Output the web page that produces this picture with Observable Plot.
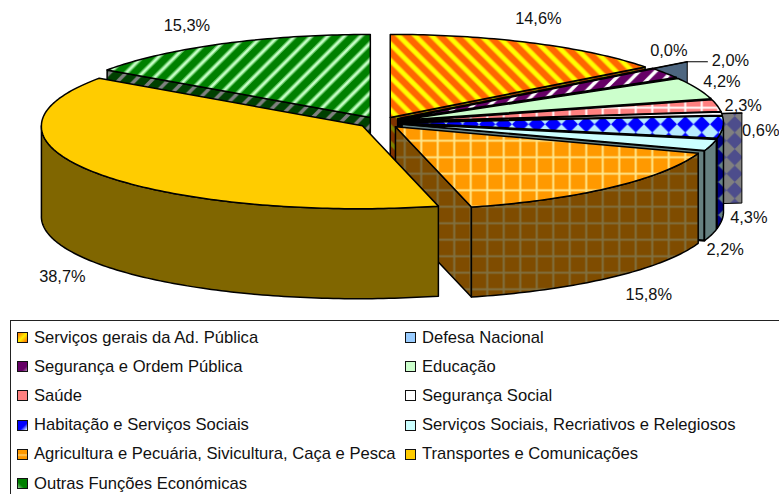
<!DOCTYPE html>
<html lang="pt">
<head>
<meta charset="utf-8">
<script src="https://cdn.jsdelivr.net/npm/d3@7"></script>
<script src="https://cdn.jsdelivr.net/npm/@observablehq/plot@0.6"></script>
<style>
html,body{margin:0;padding:0;background:#fff;overflow:hidden;width:779px;height:495px}
#chart svg{display:block}
#legend{box-sizing:border-box;position:relative;margin-left:10px;width:780px;height:174px;border-left:1px solid #222;border-top:1px solid #222;
 display:grid;grid-template-columns:388px 1fr;grid-auto-rows:29.2px;padding-top:2px;font:16.6px "Liberation Sans",Arial,sans-serif;color:#111}
.item{display:flex;align-items:center;white-space:nowrap;padding-left:6px}
.sw{box-sizing:border-box;width:11px;height:11px;border:1.5px solid #111;margin-right:6px;flex:none}
</style>
</head>
<body>
<div id="chart"></div>
<div id="legend"></div>
<script>
const categories = ["Serviços gerais da Ad. Pública","Defesa Nacional","Segurança e Ordem Pública","Educação","Saúde","Segurança Social","Habitação e Serviços Sociais","Serviços Sociais, Recriativos e Relegiosos","Agricultura e Pecuária, Sivicultura, Caça e Pesca","Transportes e Comunicações","Outras Funções Económicas"];
const values = [14.6,0.0,2.0,4.2,2.3,0.6,4.3,2.2,15.8,38.7,15.3];

// drawing layout
const W = 779, H = 320, cx = 380, cy = 122, A = 321, B = 83, E = 22, DEPTH = 90, FRONT_PULL = 4;
const topFill = ["url(#redTop)","#99ccff","url(#purpleTop)","#ccffcc","url(#pinkTop)","#ffffff","url(#blueTop)","#ccffff","url(#orangeTop)","#ffcc00","url(#greenTop)"];
const wallFill = ["url(#redWall)","#4d6680","url(#purpleWall)","#668066","url(#pinkWall)","url(#whiteWall)","url(#blueWall)","#668080","url(#orangeWall)","#806600","url(#greenWall)"];
const flapReach = [0,1.135,0,0,0,1.063,0,0,0,0,0];
const labelNudge = [[6,-24],[16,-18],[65,-12],[25,-7],[26,0],[39,17],[26,91],[14,105],[38,107],[-34,104],[-35,-18]];
const drawOrder = [10,0,1,2,3,4,5,6,7,8,9];
const heavyEdge = [0,1,1,1,1,1,1,1,0,0,0];
const swatchBg = [
 "linear-gradient(135deg,#ff8800 10%,#ffee00 50%,#ff7700 95%)","#99ccff",
 "linear-gradient(135deg,#660066 70%,#b080b0 100%)","#ccffcc","#ff8080","#ffffff",
 "linear-gradient(135deg,#0000ff 60%,#cfe6ff 95%)","#ccffff",
 "linear-gradient(180deg,#ff9900 40%,#ffd070 55%,#ff9900 75%)","#ffcc00",
 "linear-gradient(45deg,#90d090 0%,#008000 35%)"];

const arcs = d3.pie().sort(null).value(d => d)(values);
const PI = Math.PI;

function apex(a){const m=(a.startAngle+a.endAngle)/2;return {x:cx+E*Math.sin(m),y:cy-E*(B/A)*Math.cos(m)};}
function rim(a,t,k=1){const c=apex(a);return {x:c.x+k*A*Math.sin(t)-FRONT_PULL*Math.max(0,-Math.cos(t)),y:c.y-k*B*Math.cos(t)};}
const drop = p => ({x:p.x,y:p.y+DEPTH});
function arcPts(a,t0,t1){const n=Math.max(1,Math.ceil((t1-t0)/(PI/180)));return d3.range(n+1).map(i=>rim(a,t0+(t1-t0)*i/n));}
const poly = (pts,fill,sw=1.5) => Plot.line(pts,{x:"x",y:"y",curve:"linear-closed",fill,stroke:"#000",strokeWidth:sw,strokeLinejoin:"round"});

function sliceMarks(i){
  const a=arcs[i], t0=a.startAngle, t1=a.endAngle, c=apex(a), out=[];
  const reach=flapReach[i], mid=(t0+t1)/2, sw=heavyEdge[i]?2.2:1.5;
  if(Math.sin(t0)<0){const r=rim(a,t0);out.push(poly([c,r,drop(r),drop(c)],wallFill[i]));}
  if(Math.sin(t1)>0){const r=rim(a,t1);out.push(poly([c,r,drop(r),drop(c)],wallFill[i],sw));}
  const lo=Math.max(t0,PI/2), hi=Math.min(t1,3*PI/2);
  if(hi>lo){const p=arcPts(a,lo,hi);out.push(poly([...p,...p.map(drop).reverse()],wallFill[i]));}
  if(reach){
    const p=rim(a,mid), q=rim(a,mid,reach);
    out.push(poly([p,q,drop(q),drop(p)],wallFill[i],1));
    out.push(poly([c,p,q],topFill[i]));
  }
  if(t1>t0) out.push(poly([c,...arcPts(a,t0,t1)],topFill[i]));
  return out;
}

const fmt = v => v.toFixed(1).replace(".",",")+"%";
const labels = arcs.map((a,i)=>{const p=rim(a,(a.startAngle+a.endAngle)/2);return {x:p.x+labelNudge[i][0],y:p.y+labelNudge[i][1],text:fmt(values[i])};});
const tip = rim(arcs[1],arcs[1].startAngle,flapReach[1]);
const leader = [tip,{x:labels[2].x-23,y:tip.y}];

function tile(id,s,bg,inner){return `<pattern id="${id}" patternUnits="userSpaceOnUse" width="${s}" height="${s}"><rect width="${s}" height="${s}" fill="${bg}"/>${inner}</pattern>`;}
const S=16.5;
const diagDown=(c,w)=>`<path d="M${-S} 0L${S} ${2*S}M0 ${-S}L${2*S} ${S}M${-S} ${-S}L${2*S} ${2*S}" stroke="${c}" stroke-width="${w}"/>`;
const diagUp=(c,w)=>`<path d="M0 ${S}L${S} 0M${-S} ${S}L${S} ${-S}M0 ${2*S}L${2*S} 0" stroke="${c}" stroke-width="${w}"/>`;
const grid=(c,w)=>`<path d="M${S/2} 0V${S}M0 ${S/2}H${S}" stroke="${c}" stroke-width="${w}"/>`;
const diamond=c=>`<path d="M${S/2} 0L${S} ${S/2}L${S/2} ${S}L0 ${S/2}Z" fill="${c}"/>`;
const defsMark = () => {
  const g=document.createElementNS("http://www.w3.org/2000/svg","defs");
  g.innerHTML=[
   tile("redTop",S,"#ff6600",diagDown("#ffcc00",5.5)+diagDown("#ffff00",3.5)),
   tile("redWall",S,"#803300",diagDown("#808000",4)),
   tile("purpleTop",S,"#660066",diagUp("#ffffff",3.5)),
   tile("purpleWall",S,"#330033",diagUp("#808080",3.5)),
   tile("pinkTop",S,"#ff8080",grid("#ffffff",2)),
   tile("pinkWall",S,"#804040",grid("#808080",2)),
   tile("blueTop",S,"#b8ecff",diamond("#0000ff")),
   tile("blueWall",S,"#668080",diamond("#000080")),
   tile("whiteWall",S,"#808080",diamond("#4d4d8c")),
   tile("orangeTop",S,"#ff9900",grid("#ffe68a",2)),
   tile("orangeWall",S,"#7f4c00",grid("#807040",2)),
   tile("greenTop",S,"#008000",diagUp("#6fd06f",4.5)+diagUp("#ccffcc",2)),
   tile("greenWall",S,"#004000",diagUp("#808080",3.5))
  ].join("");
  return g;
};

const chart = Plot.plot({
  width:W,height:H,margin:0,
  x:{domain:[0,W],range:[0,W],axis:null},
  y:{domain:[0,H],range:[0,H],axis:null},
  marks:[
    defsMark,
    ...drawOrder.flatMap(sliceMarks),
    Plot.line(leader,{x:"x",y:"y",stroke:"#000",strokeWidth:1.2}),
    Plot.text(labels,{x:"x",y:"y",text:"text",fontSize:16.4,fontFamily:"'Liberation Sans',Arial,sans-serif",fill:"#111"})
  ]
});
document.getElementById("chart").append(chart);

const legend=document.getElementById("legend");
categories.forEach((name,i)=>{
  const it=document.createElement("div");it.className="item";
  const sw=document.createElement("span");sw.className="sw";sw.style.background=swatchBg[i];
  const t=document.createElement("span");t.textContent=name;
  it.append(sw,t);legend.append(it);
});
</script>
</body>
</html>
